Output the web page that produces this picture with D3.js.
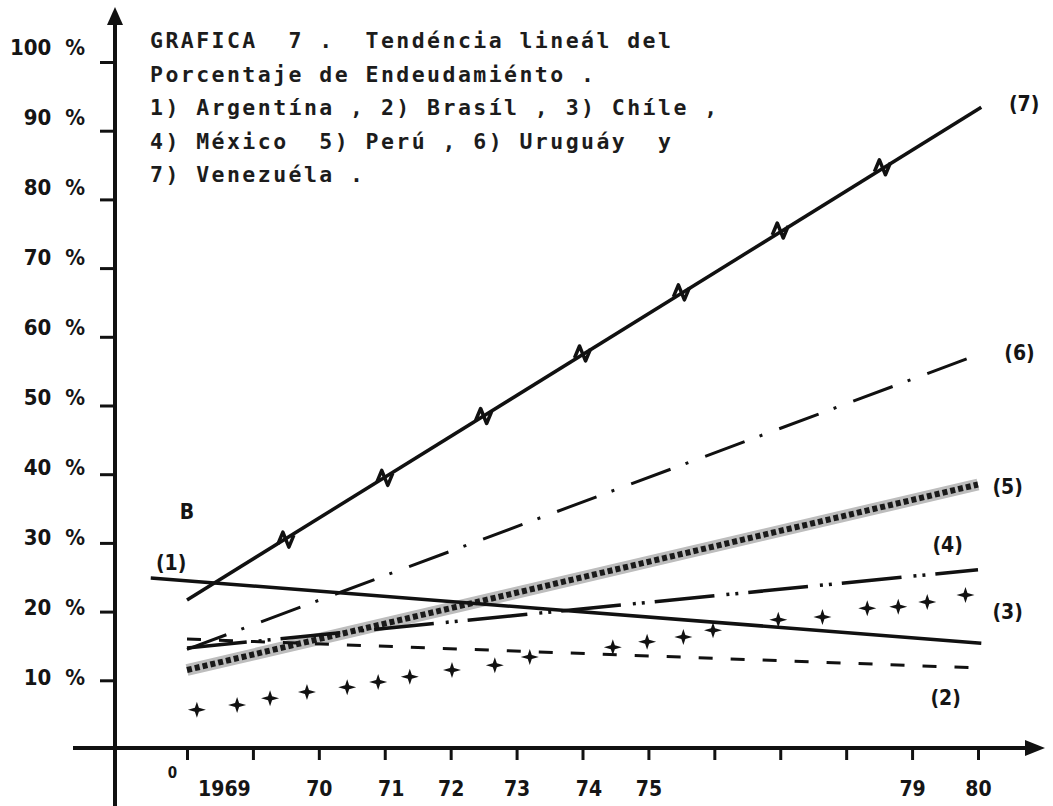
<!DOCTYPE html>
<html>
<head>
<meta charset="utf-8">
<script src="https://cdn.jsdelivr.net/npm/d3@7"></script>
<style>
body { margin: 0; background: #fff; }
svg { display: block; }
.title { font-family: 'DejaVu Sans Mono', monospace; font-weight: bold; font-size: 21.5px; letter-spacing: 2.45px; fill: #1c1c1c; white-space: pre; }
.lbl { font-family: 'DejaVu Sans Condensed', 'DejaVu Sans', sans-serif; font-weight: bold; font-size: 21px; fill: #151515; }
.axis text { font-family: 'DejaVu Sans Condensed', 'DejaVu Sans', sans-serif; font-weight: bold; font-size: 21px; fill: #151515; }
.yaxis text { font-size: 22px; }
</style>
</head>
<body>
<div id="chart"></div>
<script>
'use strict';

// tick values / labels
var years = [1968, 1969, 1970, 1971, 1972, 1973, 1974, 1975, 1976, 1977, 1978, 1979, 1980];
var xTickLabels = ['0', '1969', '70', '71', '72', '73', '74', '75', '', '', '', '79', '80'];
var yTicks = [10, 20, 30, 40, 50, 60, 70, 80, 90, 100];

var titleLines = [
    'GRAFICA  7 .  Tendéncia lineál del',
    'Porcentaje de Endeudamiénto .',
    '1) Argentína , 2) Brasíl , 3) Chíle ,',
    '4) México  5) Perú , 6) Uruguáy  y',
    '7) Venezuéla .'
];

// trend lines [year, %]
var argentina = [[1967.45, 24.9], [1980.05, 15.4]];
var brasil    = [[1968.0, 16.0], [1980.0, 11.8]];
var mexico    = [[1968.0, 14.7], [1980.0, 26.1]];
var peru      = [[1968.0, 11.5], [1980.0, 38.5]];
var uruguay   = [[1968.0, 14.5], [1980.0, 57.4]];
var venezuela = [[1968.0, 21.7], [1980.05, 93.4]];

// Chile is drawn only with star marks
var chile = [
    [1968.15, 5.7], [1968.76, 6.4], [1969.26, 7.4], [1969.82, 8.3], [1970.43, 9.0],
    [1970.9, 9.75], [1971.38, 10.5], [1972.02, 11.5], [1972.67, 12.2], [1973.2, 13.4],
    [1974.46, 14.8], [1974.98, 15.6], [1975.53, 16.3], [1975.98, 17.3], [1976.97, 18.8],
    [1977.64, 19.2], [1978.32, 20.5], [1978.79, 20.7], [1979.23, 21.4], [1979.81, 22.4]
];

// zigzag marks on the Venezuela line
var venezuelaMarks = [[1969.5, 30.4], [1971.0, 39.4], [1972.5, 48.4], [1974.0, 57.5],
    [1975.5, 66.4], [1977.0, 75.4], [1978.55, 84.6]];

// series labels [text, year, %]
var seriesLabels = [
    ['(1)', 1967.76, 27.1], ['(2)', 1979.51, 7.4], ['(3)', 1980.45, 19.9],
    ['(4)', 1979.54, 29.7], ['(5)', 1980.45, 38.1], ['(6)', 1980.63, 57.6],
    ['(7)', 1980.70, 93.9], ['B', 1968.0, 34.5]
];

var W = 1053, H = 806;

var svg = d3.select('#chart').append('svg')
    .attr('width', W)
    .attr('height', H);

var x = d3.scaleLinear().domain([1968, 1980]).range([187, 978]);
var y = d3.scaleLinear().domain([0, 100]).range([749, 62]);
// typed labels sit on their own even spacing, a bit off the hand drawn ticks
var yLabel = d3.scaleLinear().domain([10, 100]).range([677, 47]);

var line = d3.line()
    .x(function(d){ return x(d[0]); })
    .y(function(d){ return y(d[1]); });

// y axis
var yAxis = d3.axisLeft(y)
    .tickValues(yTicks)
    .tickSize(15)
    .tickPadding(15)
    .tickFormat(function(d){ return d + '\u00a0\u00a0%'; });

var yg = svg.append('g')
    .attr('class', 'axis yaxis')
    .attr('transform', 'translate(115,0)')
    .call(yAxis);
yg.select('.domain').remove();
yg.selectAll('.tick line').attr('stroke', '#111').attr('stroke-width', 3);
yg.selectAll('.tick text')
    .attr('y', function(d){ return yLabel(d) - y(d); })
    .attr('dy', '0.36em');

svg.append('line')
    .attr('x1', 115).attr('y1', 20)
    .attr('x2', 115).attr('y2', H)
    .attr('stroke', '#111')
    .attr('stroke-width', 4);
svg.append('path')
    .attr('d', 'M115,7 L107,25 L123,25 Z')
    .attr('fill', '#111');

// x axis
var xAxis = d3.axisBottom(x)
    .tickValues(years)
    .tickSize(12)
    .tickPadding(21)
    .tickFormat(function(d, i){ return xTickLabels[i]; });

var xg = svg.append('g')
    .attr('class', 'axis')
    .attr('transform', 'translate(0,748)')
    .call(xAxis);
xg.select('.domain').remove();
xg.selectAll('.tick line').attr('stroke', '#111').attr('stroke-width', 3);
xg.selectAll('.tick text')
    .attr('dx', function(d){ return d === 1968 ? -15 : (d === 1969 ? -29 : (d === 1971 || d === 1974 ? 6 : 0)); })
    .attr('dy', function(d){ return d === 1968 ? '-0.2em' : '0.71em'; })
    .style('font-size', function(d){ return d === 1968 ? '15px' : null; });

svg.append('line')
    .attr('x1', 73).attr('y1', 748)
    .attr('x2', 1030).attr('y2', 748)
    .attr('stroke', '#111')
    .attr('stroke-width', 4);
svg.append('path')
    .attr('d', 'M1045,748 L1025,740 L1025,756 Z')
    .attr('fill', '#111');

// title
svg.append('g').selectAll('text')
    .data(titleLines)
    .enter()
    .append('text')
    .attr('class', 'title')
    .attr('x', 150)
    .attr('y', function(d, i){ return 48 + i * 33.5; })
    .text(function(d){ return d; });

// lines
var plot = svg.append('g').attr('fill', 'none');

// Perú: grey band with dark squares
plot.append('path').attr('d', line(peru))
    .attr('stroke', '#bdbdbd').attr('stroke-width', 12);
plot.append('path').attr('d', line(peru))
    .attr('stroke', '#1a1a1a').attr('stroke-width', 6)
    .attr('stroke-dasharray', '5,3');

plot.append('path').attr('d', line(argentina))
    .attr('stroke', '#111').attr('stroke-width', 3.5);

plot.append('path').attr('d', line(brasil))
    .attr('stroke', '#111').attr('stroke-width', 3)
    .attr('stroke-dasharray', '14,18');

plot.append('path').attr('d', line(mexico))
    .attr('stroke', '#111').attr('stroke-width', 3.5)
    .attr('stroke-dasharray', '60,12,3,6,3,10');

plot.append('path').attr('d', line(uruguay))
    .attr('stroke', '#111').attr('stroke-width', 3)
    .attr('stroke-dasharray', '42,16,3,18');

plot.append('path').attr('d', line(venezuela))
    .attr('stroke', '#111').attr('stroke-width', 3.5);

plot.selectAll('.zig')
    .data(venezuelaMarks)
    .enter()
    .append('path')
    .attr('class', 'zig')
    .attr('d', 'M-8,4 L-3,-8 L3,7 L8,-5')
    .attr('transform', function(d){ return 'translate(' + x(d[0]) + ',' + y(d[1]) + ')'; })
    .attr('stroke', '#111')
    .attr('stroke-width', 3.5)
    .attr('stroke-linejoin', 'round');

// Chile stars
var star = 'M0,-8 L2,-2 L9,0 L2,2 L0,8 L-2,2 L-9,0 L-2,-2 Z';
svg.append('g').selectAll('path')
    .data(chile)
    .enter()
    .append('path')
    .attr('d', star)
    .attr('transform', function(d){ return 'translate(' + x(d[0]) + ',' + y(d[1]) + ')'; })
    .attr('fill', '#111');

// labels
svg.append('g').selectAll('text')
    .data(seriesLabels)
    .enter()
    .append('text')
    .attr('class', 'lbl')
    .attr('x', function(d){ return x(d[1]); })
    .attr('y', function(d){ return y(d[2]); })
    .attr('text-anchor', 'middle')
    .attr('dominant-baseline', 'central')
    .text(function(d){ return d[0]; });
</script>
</body>
</html>
